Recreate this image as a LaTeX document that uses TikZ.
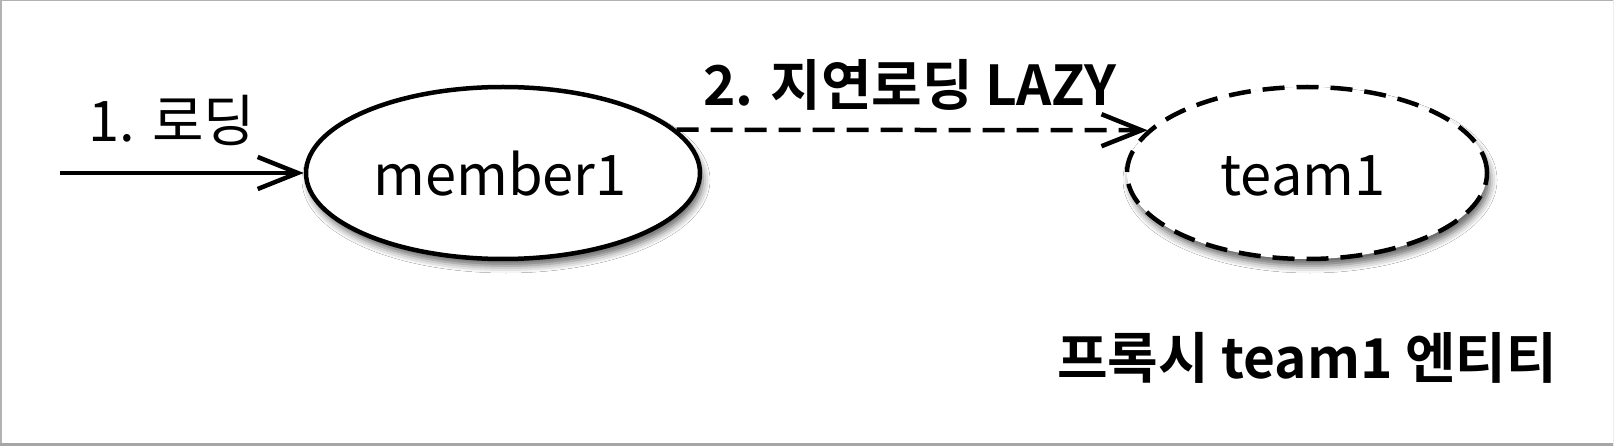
\documentclass[tikz,border=0pt]{standalone}
\usepackage{fontspec}
\newfontfamily\kr{Noto Sans CJK KR}[BoldFont={Noto Sans CJK KR Bold}]
\usetikzlibrary{arrows.meta,shapes.geometric,shadows.blur}
\tikzset{
  ell/.style={ellipse, draw=black, line width=4.5pt, fill=white, inner sep=0pt,
    blur shadow={shadow xshift=3pt, shadow yshift=-7pt, shadow blur radius=7pt, shadow opacity=60}},
  plain/.style={font=\kr\fontsize{56}{60}\selectfont, inner sep=0pt},
  boldlbl/.style={font=\kr\bfseries\fontsize{55}{60}\selectfont, inner sep=0pt},
  barb/.style={-{Straight Barb[length=40pt,width=32pt]}, line width=4.5pt},
  dashline/.style={dash pattern=on 22pt off 12pt},
}
\begin{document}
\begin{tikzpicture}[x=1pt,y=-1pt]
\useasboundingbox (0,0) rectangle (1614,446);
\fill[white] (0,0) rectangle (1614,446);
\draw[gray!60, line width=1.5pt] (0.75,446) -- (0.75,0.75) -- (1614,0.75);
\draw[gray!70, line width=3pt] (0,444.5) -- (1614,444.5);
\draw[gray!15, line width=1pt] (1613.5,0) -- (1613.5,446);

\node[ell, minimum width=394pt, minimum height=172pt] (m1) at (503,173) {};
\node[ell, dashline, minimum width=360pt, minimum height=172pt] (t1) at (1307,173) {};

\node[plain, anchor=base] (m1txt) at (500,196) {member1};
\node[plain, anchor=base] (t1txt) at (1303,196) {team1};

\node[plain, font=\kr\fontsize{56}{60}\selectfont, anchor=base] (lbl1) at (172,142) {1. 로딩};
\coordinate (start) at (60,173);
\draw[barb] (start) -- (m1.west);

\node[boldlbl, anchor=base] (lbl2) at (910,106) {2. 지연로딩 LAZY};
\draw[barb, dashline] (m1.14) -- (t1.165);

\node[boldlbl, font=\kr\bfseries\fontsize{55}{60}\selectfont, anchor=base] (lbl3) at (1307,378) {프록시 team1 엔티티};
\end{tikzpicture}
\end{document}
